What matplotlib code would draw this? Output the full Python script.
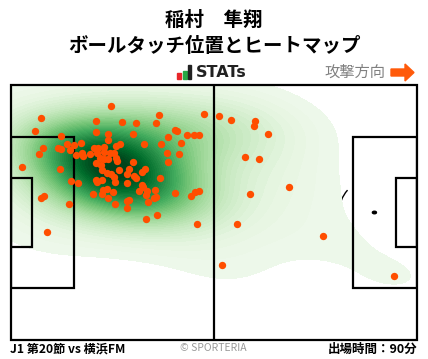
import matplotlib.pyplot as plt
import numpy as np
from matplotlib.patches import Rectangle, Arc, Circle, Polygon

plt.rcParams['font.family'] = ['Noto Sans CJK JP', 'DejaVu Sans']

# ボールタッチ位置 (ピッチ長さ/幅に対する%、yは上から)
touch_x = [24.8, 7.6, 6.1, 21.1, 27.5, 30.9, 36.6, 35.9, 47.7, 51.4,
           21.1, 30.2, 40.5, 41.0, 43.5, 45.2, 46.4, 38.8, 32.9, 37.1,
           42.0, 38.6, 41.5, 38.8, 12.5, 8.1, 7.1, 11.6, 12.5, 14.0,
           15.5, 17.4, 14.6, 16.0, 17.6, 17.9, 19.6, 20.5, 21.6, 23.0,
           24.1, 24.0, 26.0, 27.0, 23.1, 24.5, 25.4, 22.0, 23.1, 24.0,
           25.9, 26.3, 21.0, 22.2, 30.2, 22.4, 23.7, 24.7, 25.5, 26.8,
           29.2, 28.7, 30.5, 32.3, 33.0, 21.0, 22.4, 21.3, 25.8, 28.7,
           32.4, 32.5, 36.9, 22.8, 23.8, 25.3, 20.4, 22.4, 31.7, 33.7,
           35.6, 33.4, 35.9, 35.2, 33.9, 24.1, 25.8, 28.6, 29.2, 28.7,
           40.5, 44.3, 45.3, 46.3, 36.1, 33.4, 45.9, 2.9, 12.2, 14.9,
           16.7, 7.4, 8.3, 14.5, 9.1, 54.3, 60.2, 60.0, 63.4, 57.8,
           61.2, 68.6, 59.0, 55.8, 76.9, 52.1, 94.4, 30.9, 21.4]
touch_y = [8.4, 13.1, 18.0, 14.2, 14.6, 15.0, 11.9, 15.0, 11.5, 12.3,
           18.5, 19.3, 17.6, 18.2, 19.7, 19.7, 19.7, 20.5, 23.3, 23.3,
           22.9, 26.8, 27.2, 30.3, 20.0, 24.8, 27.2, 24.8, 25.2, 23.3,
           23.5, 22.9, 25.6, 27.3, 26.5, 28.0, 27.1, 24.8, 24.8, 24.2,
           19.3, 21.6, 23.9, 23.2, 26.2, 26.7, 26.8, 28.7, 29.1, 29.1,
           28.7, 29.7, 30.7, 31.4, 30.3, 33.3, 34.4, 35.0, 36.0, 33.5,
           33.0, 35.0, 35.8, 34.2, 33.1, 37.3, 37.1, 38.2, 38.2, 38.5,
           39.2, 40.1, 36.6, 41.2, 40.6, 42.1, 42.9, 42.7, 41.7, 41.7,
           41.3, 43.3, 43.8, 44.4, 45.7, 44.4, 46.7, 45.4, 45.2, 48.4,
           42.5, 43.6, 42.0, 41.7, 51.1, 52.7, 54.5, 32.3, 33.0, 37.8,
           38.5, 44.4, 43.7, 46.8, 57.8, 13.6, 14.1, 16.2, 19.3, 28.4,
           29.1, 40.1, 42.9, 54.6, 59.2, 70.6, 75.0, 36.4, 26.8]

player = '稲村　隼翔'
match_label = 'J1 第20節 vs 横浜FM'
minutes_label = '出場時間：90分'

W, H = 428, 359
fig = plt.figure(figsize=(W / 100, H / 100), dpi=100)
ax = fig.add_axes([10.5 / W, 19 / H, 406.5 / W, 255 / H])
ax.set_xlim(0, 100)
ax.set_ylim(100, 0)
ax.axis('off')

# pitch size in percent (105 x 68 m)
sx = 100 / 105
sy = 100 / 68

# ヒートマップ (gaussian KDE)
pts = np.column_stack([touch_x, touch_y])
n = len(pts)
bw = 1.6 * n ** (-1 / 6)
cov = np.cov(pts.T) * bw ** 2
inv = np.linalg.inv(cov)
gx, gy = np.meshgrid(np.linspace(0, 100, 260), np.linspace(0, 100, 180))
grid = np.column_stack([gx.ravel(), gy.ravel()])
diff = grid[:, None, :] - pts[None, :, :]
d2 = np.einsum('gni,ij,gnj->gn', diff, inv, diff)
z = np.exp(-0.5 * d2).sum(axis=1).reshape(gx.shape)
z = z / z.max()
levels = np.linspace(0.02, 1.0, 50)
ax.contourf(gx, gy, z, levels=levels, cmap='Greens', vmin=-0.04,
            vmax=0.97, zorder=2, extend='max')

lw = 1.6
# arcs / circle under heatmap
for cx, a1, a2 in [(11 * sx, -53, 53), (100 - 11 * sx, 127, 233)]:
    ax.add_patch(Arc((cx, 50), 2 * 9.15 * sx, 2 * 9.15 * sy, theta1=a1,
                     theta2=a2, color='black', lw=1.0, zorder=1))
ax.add_patch(Arc((50, 50), 2 * 9.15 * sx, 2 * 9.15 * sy, color='black',
                 lw=1.0, zorder=1))
ax.add_patch(Circle((11 * sx, 50), 0.5, color='black', zorder=1))
ax.add_patch(Circle((100 - 11 * sx, 50), 0.5, color='black', zorder=3))

# lines
ax.add_patch(Rectangle((0, 0), 100, 100, fill=False, lw=lw, ec='black',
                       zorder=4, clip_on=False))
ax.plot([50, 50], [0, 100], color='black', lw=lw, zorder=4)
pb_w = 40.32 * sy
sb_w = 18.32 * sy
for x0, w in [(0, 16.5 * sx), (100 - 16.5 * sx, 16.5 * sx)]:
    ax.add_patch(Rectangle((x0, 50 - pb_w / 2), w, pb_w, fill=False,
                           lw=lw, ec='black', zorder=4))
for x0, w in [(0, 5.5 * sx), (100 - 5.5 * sx, 5.5 * sx)]:
    ax.add_patch(Rectangle((x0, 50 - sb_w / 2), w, sb_w, fill=False,
                           lw=lw, ec='black', zorder=4))

ax.scatter(touch_x, touch_y, s=28, color='#ff4e00', lw=0, zorder=5)

# titles
fig.text(0.5, 1 - 20 / H, player, ha='center', va='center', fontsize=14,
         fontweight='bold')
fig.text(0.5, 1 - 46 / H, 'ボールタッチ位置とヒートマップ', ha='center',
         va='center', fontsize=14, fontweight='bold')

# STATs logo
for (x0, y0, x1), c in zip([(177, 73, 181), (182.5, 71, 186.5), (188, 65, 191)],
                           ['#e8262a', '#27a844', '#222222']):
    fig.patches.append(Rectangle((x0 / W, 1 - 79 / H), (x1 - x0) / W,
                                 (79 - y0) / H, transform=fig.transFigure,
                                 color=c))
fig.text(196 / W, 1 - 72.5 / H, 'STATs', ha='left', va='center',
         fontsize=11.5, fontweight='bold', family='DejaVu Sans',
         color='#222222')

fig.text(385 / W, 1 - 72 / H, '攻撃方向', ha='right', va='center',
         fontsize=11, color='#808080')
arrow = [(391, 69), (405, 69), (405, 64), (414, 72.5), (405, 81),
         (405, 76), (391, 76)]
fig.patches.append(Polygon([(x / W, 1 - y / H) for x, y in arrow],
                           closed=True, transform=fig.transFigure,
                           color='#ff5a0a'))

# footer
fig.text(10 / W, 1 - 349 / H, match_label, ha='left', va='center',
         fontsize=8.7, fontweight='bold')
fig.text(213 / W, 1 - 348 / H, '© SPORTERIA', ha='center', va='center',
         fontsize=7.5, color='#999999')
fig.text(417 / W, 1 - 349 / H, minutes_label, ha='right', va='center',
         fontsize=9, fontweight='bold')

fig.savefig('out.png', dpi=100, facecolor='white')
